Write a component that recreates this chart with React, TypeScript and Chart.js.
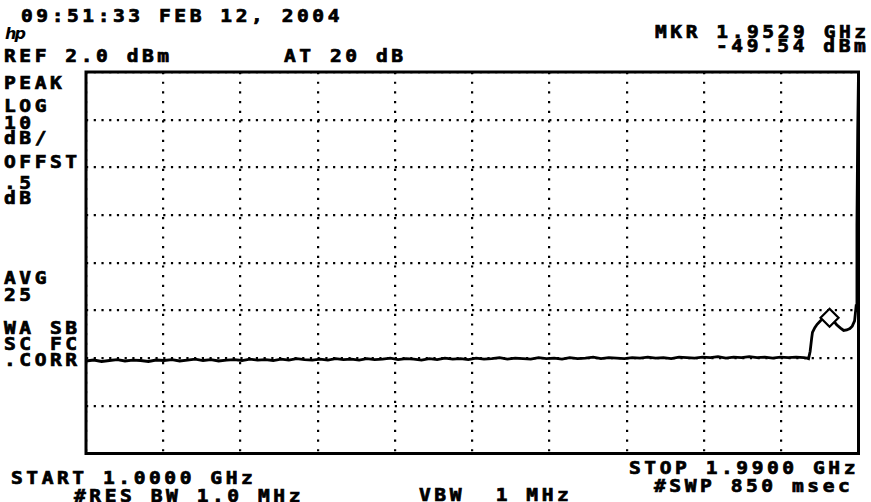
import { useEffect, useRef } from 'react';
import { Chart, registerables } from 'chart.js';

Chart.register(...registerables);

// ---- sweep / display settings ----
const START_GHZ = 1.0;
const STOP_GHZ = 1.99;
const REF_DBM = 2.0;
const DB_PER_DIV = 10;
const Y_DIVS = 8;
const X_DIVS = 10;

// ---- trace: flat noise floor, sampled every 10 MHz from 1.00 to 1.92 GHz ----
const FLAT_STEP_GHZ = 0.01;
const FLAT_DBM = [
  -58.6, -58.4, -58.7, -58.5, -58.3, -58.6, -58.4, -58.5, -58.7, -58.4,
  -58.5, -58.3, -58.6, -58.4, -58.2, -58.5, -58.3, -58.6, -58.4, -58.3,
  -58.5, -58.2, -58.4, -58.3, -58.5, -58.2, -58.4, -58.1, -58.3, -58.4,
  -58.2, -58.4, -58.1, -58.3, -58.2, -58.4, -58.1, -58.3, -58.2, -58.0,
  -58.3, -58.1, -58.2, -58.4, -58.1, -58.3, -58.0, -58.2, -58.1, -58.3,
  -58.0, -58.2, -58.1, -57.9, -58.2, -58.0, -58.1, -58.2, -57.9, -58.1,
  -58.0, -58.2, -57.9, -58.1, -58.0, -57.8, -58.1, -57.9, -58.0, -58.1,
  -57.9, -58.0, -57.8, -58.0, -57.9, -58.1, -57.8, -57.9, -58.0, -57.8,
  -57.9, -57.7, -58.0, -57.8, -57.9, -57.7, -57.9, -57.8, -58.0, -57.8,
  -57.9, -57.8, -57.9,
];

// ---- trace: signal rise near the top of the band ----
const BUMP_FREQ = [
  1.924, 1.926, 1.928, 1.93, 1.931, 1.934, 1.937, 1.941, 1.944, 1.948,
  1.9529, 1.958, 1.962, 1.967, 1.971, 1.975, 1.979, 1.982, 1.985, 1.987,
  1.988, 1.989, 1.99,
];
const BUMP_DBM = [
  -58.0, -58.1, -56.6, -53.8, -52.6, -51.6, -50.9, -50.2, -49.8, -49.6,
  -49.54, -50.2, -51.0, -51.7, -52.2, -52.1, -51.8, -51.3, -50.2, -47.0,
  -30.0, -10.0, 2.0,
];

// ---- marker ----
const MARKER_FREQ = 1.9529;
const MARKER_DBM = -49.54;

// ---- graticule ----
const X_GRID = Array.from({ length: X_DIVS + 1 }, (_, i) => START_GHZ + (i * (STOP_GHZ - START_GHZ)) / X_DIVS);
const Y_GRID = Array.from({ length: Y_DIVS + 1 }, (_, i) => REF_DBM - i * DB_PER_DIV);

// ---- screen annotations ----
const LABELS: { text: string; x: number; y: number }[] = [
  { text: '09:51:33 FEB 12, 2004', x: 21, y: 10 },
  { text: 'REF 2.0 dBm', x: 4, y: 50 },
  { text: 'AT 20 dB', x: 284, y: 50 },
  { text: 'MKR 1.9529 GHz', x: 655, y: 26 },
  { text: '-49.54 dBm', x: 716, y: 40 },
  { text: 'PEAK', x: 4, y: 77 },
  { text: 'LOG', x: 4, y: 100 },
  { text: '10', x: 4, y: 117 },
  { text: 'dB/', x: 4, y: 132 },
  { text: 'OFFST', x: 4, y: 156 },
  { text: '.5', x: 4, y: 177 },
  { text: 'dB', x: 4, y: 192 },
  { text: 'AVG', x: 4, y: 272 },
  { text: '25', x: 4, y: 289 },
  { text: 'WA SB', x: 4, y: 322 },
  { text: 'SC FC', x: 4, y: 338 },
  { text: '.CORR', x: 4, y: 354 },
  { text: 'START 1.0000 GHz', x: 11, y: 472 },
  { text: '#RES BW 1.0 MHz', x: 74, y: 490 },
  { text: 'VBW  1 MHz', x: 419, y: 489 },
  { text: 'STOP 1.9900 GHz', x: 629, y: 462 },
  { text: '#SWP 850 msec', x: 654, y: 480 },
];

const framePlugin = {
  id: 'frame',
  afterDatasetsDraw(chart: any) {
    const { ctx, chartArea } = chart;
    const { left, top, right, bottom } = chartArea;
    ctx.save();
    ctx.lineWidth = 3;
    ctx.strokeStyle = '#000';
    ctx.strokeRect(left, top, right - left, bottom - top);
    ctx.restore();
  },
};

export default function App() {
  const ref = useRef<HTMLCanvasElement | null>(null);

  useEffect(() => {
    if (!ref.current) return;
    const trace = [
      ...FLAT_DBM.map((y, i) => ({ x: START_GHZ + i * FLAT_STEP_GHZ, y })),
      ...BUMP_FREQ.map((x, i) => ({ x, y: BUMP_DBM[i] })),
    ];
    const chart = new Chart(ref.current, {
      type: 'line',
      data: {
        datasets: [
          {
            data: [{ x: MARKER_FREQ, y: MARKER_DBM }],
            showLine: false,
            pointStyle: 'rectRot',
            pointRadius: 9,
            pointBorderWidth: 2.2,
            pointBorderColor: '#000',
            pointBackgroundColor: '#fff',
            order: 0,
          } as any,
          {
            data: trace,
            borderColor: '#000',
            borderWidth: 2.8,
            pointRadius: 0,
            tension: 0,
            fill: false,
            order: 1,
          },
        ],
      },
      options: {
        animation: false,
        responsive: false,
        events: [],
        layout: { autoPadding: false, padding: { left: 6, top: 6, right: 6.5, bottom: 6.5 } },
        plugins: { legend: { display: false }, tooltip: { enabled: false } },
        scales: {
          x: {
            type: 'linear',
            min: START_GHZ,
            max: STOP_GHZ,
            ticks: { display: false },
            grid: { color: '#000', lineWidth: 2.2, drawTicks: false },
            border: { display: false, dash: [2.2, 7.47] },
            afterBuildTicks: (s: any) => {
              s.ticks = X_GRID.map((value) => ({ value }));
            },
            afterFit: (s: any) => {
              s.height = 0;
            },
          },
          y: {
            type: 'linear',
            min: REF_DBM - Y_DIVS * DB_PER_DIV,
            max: REF_DBM,
            ticks: { display: false },
            grid: { color: '#000', lineWidth: 2.2, drawTicks: false },
            border: { display: false, dash: [2.2, 5.52] },
            afterBuildTicks: (s: any) => {
              s.ticks = Y_GRID.map((value) => ({ value }));
            },
            afterFit: (s: any) => {
              s.width = 0;
            },
          },
        },
      },
      plugins: [framePlugin],
    });
    return () => chart.destroy();
  }, []);

  return (
    <div
      style={{
        position: 'fixed',
        left: 0,
        top: 0,
        width: 871,
        height: 502,
        background: '#fff',
        overflow: 'hidden',
      }}
    >
      {LABELS.map((l, i) => (
        <div
          key={i}
          style={{
            position: 'absolute',
            left: l.x,
            top: l.y - 2,
            font: 'bold 17px "DejaVu Sans Mono", monospace',
            lineHeight: '17px',
            letterSpacing: '3.1px',
            whiteSpace: 'pre',
            color: '#000',
            WebkitTextStroke: '0.7px #000',
            transform: 'scaleX(1.15)',
            transformOrigin: '0 0',
          }}
        >
          {l.text}
        </div>
      ))}
      <div
        style={{
          position: 'absolute',
          left: 5,
          top: 26,
          font: 'italic bold 16px "DejaVu Sans", sans-serif',
          letterSpacing: '-2px',
          lineHeight: '16px',
          color: '#000',
        }}
      >
        hp
      </div>
      <div style={{ position: 'absolute', left: 80, top: 65.5, width: 785, height: 394 }}>
        <canvas ref={ref} width={785} height={394} style={{ display: 'block' }} />
      </div>
    </div>
  );
}
